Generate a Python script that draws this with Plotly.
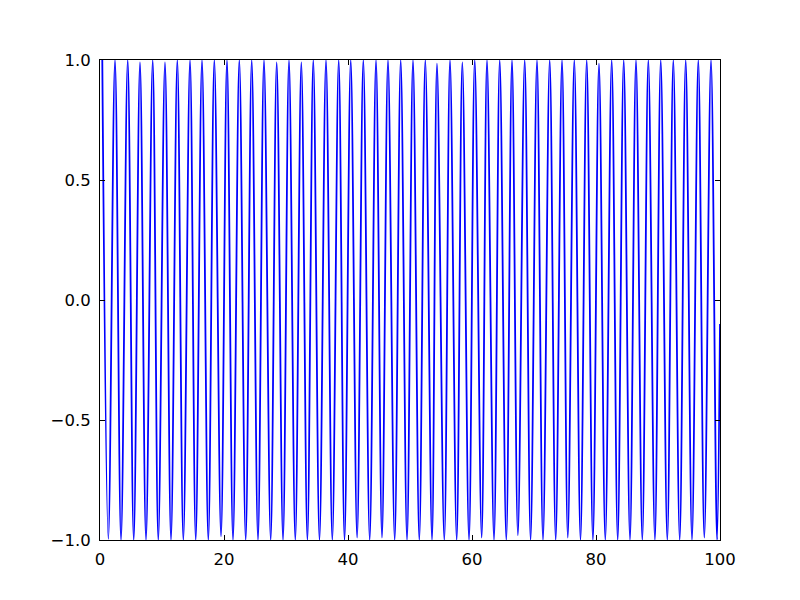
import plotly.graph_objects as go

# Crest positions (x) and heights
peak_x = [0.37, 2.42, 4.47, 6.45, 8.50, 10.48, 12.47, 14.52, 16.45, 18.44,
          20.48, 22.47, 24.47, 26.45, 28.50, 30.48, 32.47, 34.40, 36.45, 38.50,
          40.44, 42.47, 44.52, 46.45, 48.50, 50.48, 52.47, 54.35, 56.45, 58.44,
          60.44, 62.42, 64.47, 66.45, 68.50, 70.48, 72.53, 74.52, 76.50, 78.50,
          80.48, 82.53, 84.47, 86.45, 88.44, 90.44, 92.47, 94.47, 96.50, 98.55]
peak_y = [1.0, 1.0, 1.0, 0.99, 1.0, 0.99, 1.0, 1.0, 1.0, 1.0,
          1.0, 1.0, 1.0, 1.0, 0.99, 1.0, 0.99, 1.0, 1.0, 1.0,
          1.0, 1.0, 1.0, 1.0, 1.0, 1.0, 1.0, 0.985, 1.0, 0.99,
          1.0, 1.0, 1.0, 1.0, 1.0, 1.0, 1.0, 1.0, 1.0, 1.0,
          0.985, 1.0, 1.0, 1.0, 1.0, 1.0, 1.0, 1.0, 1.0, 1.0]

# Trough positions (x) and depths
trough_x = [1.34, 3.39, 5.44, 7.42, 9.40, 11.45, 13.44, 15.44, 17.47, 19.52,
            21.45, 23.50, 25.48, 27.53, 29.52, 31.50, 33.45, 35.40, 37.47, 39.44,
            41.47, 43.50, 45.48, 47.53, 49.52, 51.50, 53.55, 55.53, 57.53, 59.52,
            61.56, 63.55, 65.53, 67.40, 69.45, 71.45, 73.50, 75.45, 77.50, 79.50,
            81.50, 83.50, 85.48, 87.47, 89.50, 91.50, 93.50, 95.48, 97.47, 99.52]
trough_y = [-0.995, -1.0, -1.0, -1.0, -1.0, -1.0, -1.0, -1.0, -1.0, -0.985,
            -1.0, -1.0, -1.0, -1.0, -1.0, -1.0, -1.0, -1.0, -1.0, -1.0,
            -0.99, -1.0, -0.99, -1.0, -1.0, -1.0, -1.0, -1.0, -1.0, -1.0,
            -0.99, -1.0, -1.0, -0.98, -1.0, -1.0, -1.0, -0.99, -1.0, -1.0,
            -1.0, -1.0, -1.0, -1.0, -1.0, -1.0, -1.0, -1.0, -0.99, -1.0]

# Last point at the right edge
end_x = 100.0
end_y = -0.1

x_ticks = [0, 20, 40, 60, 80, 100]
x_tick_labels = ["0", "20", "40", "60", "80", "100"]
y_ticks = [-1.0, -0.5, 0.0, 0.5, 1.0]
y_tick_labels = ["\u22121.0", "\u22120.5", "0.0", "0.5", "1.0"]

xs, ys = [], []
for px, py, tx, ty in zip(peak_x, peak_y, trough_x, trough_y):
    xs += [px, tx]
    ys += [py, ty]
xs.append(end_x)
ys.append(end_y)

fig = go.Figure()
fig.add_trace(go.Scatter(
    x=xs, y=ys, mode="lines",
    line=dict(color="#0000ff", width=1.8, shape="spline", smoothing=1.0),
    hoverinfo="skip", showlegend=False,
))

axis_common = dict(
    showgrid=False, zeroline=False,
    showline=True, linecolor="black", linewidth=1,
    mirror="ticks", ticks="inside", ticklen=5, tickwidth=1, tickcolor="black",
    tickfont=dict(family="DejaVu Sans", size=16.5, color="black"),
)

fig.update_xaxes(range=[0, 100], tickvals=x_ticks, ticktext=x_tick_labels,
                 ticklabelstandoff=4, **axis_common)
fig.update_yaxes(range=[-1, 1], tickvals=y_ticks, ticktext=y_tick_labels,
                 ticklabelstandoff=5, **axis_common)

# The page body adds an 8 px offset, so the figure is 8 px smaller
fig.update_layout(
    width=792, height=592,
    margin=dict(l=92, r=80, t=52, b=60),
    paper_bgcolor="white", plot_bgcolor="white",
)

fig.write_html("out.html")
